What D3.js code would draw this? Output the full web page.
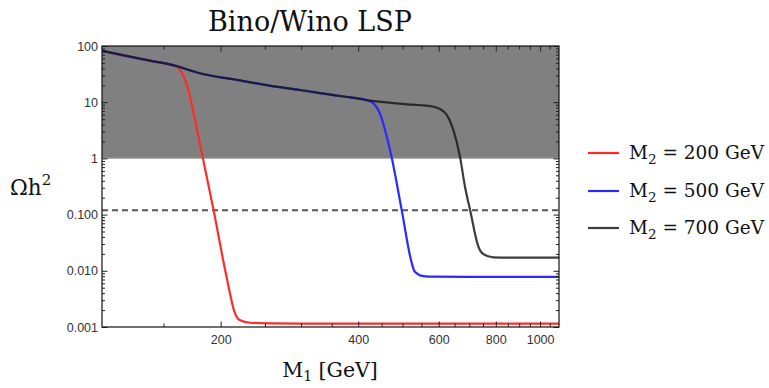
<!DOCTYPE html>
<html>
<head>
<meta charset="utf-8">
<script src="https://cdn.jsdelivr.net/npm/d3@7"></script>
<style>
  body { margin: 0; background: #fff; }
  svg { display: block; }
</style>
</head>
<body>
<svg id="chart" width="769" height="388"></svg>
<script>
// ---------------- data ----------------
const redM1   = [110, 125, 140, 155, 160, 164, 170, 177, 193, 206, 215, 220, 232, 260, 300, 400, 600, 800, 1100];
const redOmega= [82, 66, 55, 46.4, 43, 35, 16.5, 3.66, 0.12, 0.00785, 0.00175, 0.00133, 0.00119, 0.00116, 0.00115, 0.00115, 0.00115, 0.00115, 0.00115];

const blueM1   = [110, 125, 140, 160, 168.5, 180, 213, 252, 298, 365, 384, 417, 432, 446, 462, 474, 498, 524, 532, 555, 584, 700, 900, 1100];
const blueOmega= [82, 66, 55, 44, 38.5, 32.7, 25.6, 20.2, 16.5, 12.9, 12.2, 10.9, 9.55, 6.35, 2.43, 1.0, 0.12, 0.0136, 0.00964, 0.00807, 0.00786, 0.0078, 0.0078, 0.0078];

const blackM1   = [110, 125, 140, 160, 168.5, 180, 213, 252, 298, 365, 384, 417, 511, 584, 604, 625, 646, 668, 685, 703, 733, 751, 790, 850, 1000, 1100];
const blackOmega= [82, 66, 55, 44, 38.5, 32.7, 25.6, 20.2, 16.5, 12.9, 12.2, 10.9, 9.18, 8.31, 7.57, 5.92, 3.2, 1.07, 0.313, 0.12, 0.0268, 0.0199, 0.0174, 0.0172, 0.0172, 0.0172];

const seriesNames  = ["M2 = 200 GeV", "M2 = 500 GeV", "M2 = 700 GeV"];
const seriesM2     = ["200", "500", "700"];
const seriesColors = ["#ff2a2a", "#2a2aff", "#1a1a1a"];

const excludedBand = [1, 100];        // overclosure region (shaded)
const relicValue   = 0.12;            // observed relic density (dashed)

const xDomain = [110, 1100];
const yDomain = [0.001, 100];
const xMajorTicks = [200, 400, 600, 800, 1000];
const xMinorTicks = [150, 250, 300, 350, 450, 500, 550, 650, 700, 750, 850, 900, 950, 1050];
const yMajorTicks = [0.001, 0.01, 0.1, 1, 10, 100];
const yTickLabels = ["0.001", "0.010", "0.100", "1", "10", "100"];
const yMinorTicks = [];
[0.001, 0.01, 0.1, 1, 10].forEach(d => { for (let k = 2; k <= 9; k++) yMinorTicks.push(+(d * k).toPrecision(3)); });

// ---------------- layout ----------------
const svg = d3.select("#chart");
const L = 102, R = 559, T = 46, B = 327;

const x = d3.scaleLog().domain(xDomain).range([L, R]);
const y = d3.scaleLog().domain(yDomain).range([B, T]);

svg.append("defs").append("clipPath").attr("id", "clip")
  .append("rect").attr("x", L).attr("y", T).attr("width", R - L).attr("height", B - T);

// shaded region
svg.append("rect")
  .attr("x", L).attr("width", R - L)
  .attr("y", y(excludedBand[1])).attr("height", y(excludedBand[0]) - y(excludedBand[1]))
  .attr("fill", "#808080");
svg.append("line")
  .attr("x1", L).attr("x2", R).attr("y1", y(excludedBand[0])).attr("y2", y(excludedBand[0]))
  .attr("stroke", "#b0b0b0").attr("stroke-width", 1.2);

// dashed relic line
svg.append("line")
  .attr("x1", L).attr("x2", R).attr("y1", y(relicValue)).attr("y2", y(relicValue))
  .attr("stroke", "#555").attr("stroke-width", 2).attr("stroke-dasharray", "6,4");

// curves
const line = d3.line().x(d => x(d[0])).y(d => y(d[1])).curve(d3.curveMonotoneX);
const series = [
  d3.zip(redM1, redOmega),
  d3.zip(blueM1, blueOmega),
  d3.zip(blackM1, blackOmega)
];
const gCurves = svg.append("g").attr("clip-path", "url(#clip)");
series.forEach((s, i) => {
  gCurves.append("path")
    .attr("d", line(s))
    .attr("fill", "none")
    .attr("stroke", seriesColors[i])
    .attr("stroke-width", 2.2)
    .attr("stroke-opacity", i === 2 ? 0.85 : 1)
    .attr("stroke-linejoin", "round");
});

// axes (ticks inward)
function styleAxis(g) {
  g.select(".domain").remove();
  g.selectAll(".tick line").attr("stroke", "#222").attr("stroke-width", 1);
  g.selectAll(".tick text").attr("fill", "#333").attr("font-family", "Liberation Sans, Arial, sans-serif").attr("font-size", 12.5);
}
// bottom
svg.append("g").attr("transform", `translate(0,${B})`)
  .call(d3.axisBottom(x).tickValues(xMajorTicks).tickFormat(d3.format("d")).tickSize(-5.5).tickPadding(8))
  .call(styleAxis);
svg.append("g").attr("transform", `translate(0,${B})`)
  .call(d3.axisBottom(x).tickValues(xMinorTicks).tickFormat("").tickSize(-3.5))
  .call(styleAxis);
// top
svg.append("g").attr("transform", `translate(0,${T})`)
  .call(d3.axisTop(x).tickValues(xMajorTicks).tickFormat("").tickSize(-5.5))
  .call(styleAxis);
svg.append("g").attr("transform", `translate(0,${T})`)
  .call(d3.axisTop(x).tickValues(xMinorTicks).tickFormat("").tickSize(-3.5))
  .call(styleAxis);
// left
svg.append("g").attr("transform", `translate(${L},0)`)
  .call(d3.axisLeft(y).tickValues(yMajorTicks).tickFormat((d, i) => yTickLabels[i]).tickSize(-5.5).tickPadding(4))
  .call(styleAxis);
svg.append("g").attr("transform", `translate(${L},0)`)
  .call(d3.axisLeft(y).tickValues(yMinorTicks).tickFormat("").tickSize(-3))
  .call(styleAxis);
// right
svg.append("g").attr("transform", `translate(${R},0)`)
  .call(d3.axisRight(y).tickValues(yMajorTicks).tickFormat("").tickSize(-5.5))
  .call(styleAxis);
svg.append("g").attr("transform", `translate(${R},0)`)
  .call(d3.axisRight(y).tickValues(yMinorTicks).tickFormat("").tickSize(-3))
  .call(styleAxis);

// frame
svg.append("rect").attr("x", L).attr("y", T).attr("width", R - L).attr("height", B - T)
  .attr("fill", "none").attr("stroke", "#111").attr("stroke-width", 1.2);

const serif = "DejaVu Serif, Liberation Serif, serif";

// title
svg.append("text").attr("x", 310).attr("y", 31).attr("text-anchor", "middle")
  .attr("font-family", serif).attr("font-size", 27).attr("fill", "#111")
  .text("Bino/Wino LSP");

// x label
const xl = svg.append("text").attr("x", 330).attr("y", 377).attr("text-anchor", "middle")
  .attr("font-family", serif).attr("font-size", 20.5).attr("fill", "#111");
xl.append("tspan").text("M");
xl.append("tspan").attr("font-size", 14).attr("dy", 4).text("1");
xl.append("tspan").attr("dy", -4).text(" [GeV]");

// y label
const yl = svg.append("text").attr("x", 10).attr("y", 195)
  .attr("font-family", serif).attr("font-size", 21.5).attr("fill", "#111");
yl.append("tspan").text("Ωh");
yl.append("tspan").attr("font-size", 15).attr("dy", -10).text("2");

// legend
const legY = [153, 191, 228];
seriesNames.forEach((name, i) => {
  svg.append("line").attr("x1", 588).attr("x2", 619).attr("y1", legY[i]).attr("y2", legY[i])
    .attr("stroke", seriesColors[i]).attr("stroke-width", 2.2).attr("stroke-opacity", i === 2 ? 0.85 : 1);
  const t = svg.append("text").attr("x", 629).attr("y", legY[i] + 6)
    .attr("font-family", serif).attr("font-size", 18.5).attr("fill", "#111");
  t.append("tspan").text("M");
  t.append("tspan").attr("font-size", 13.5).attr("dy", 4.5).text("2");
  t.append("tspan").attr("dy", -4.5).text(" = " + seriesM2[i] + " GeV");
});
</script>
</body>
</html>
